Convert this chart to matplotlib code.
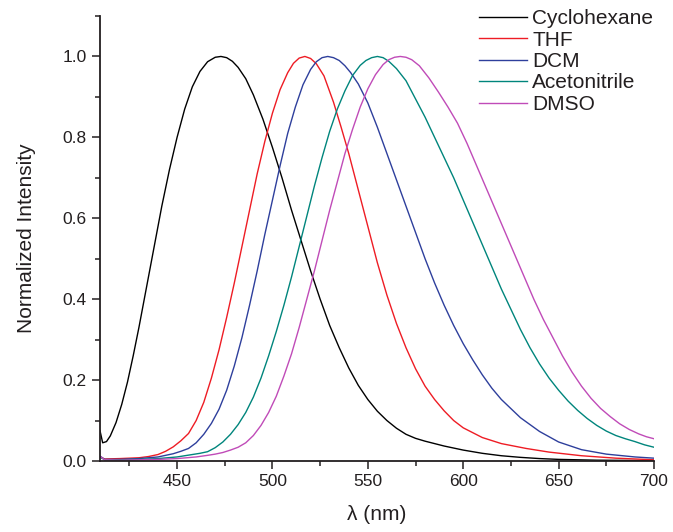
import matplotlib
matplotlib.use("Agg")
import matplotlib.pyplot as plt
from matplotlib.ticker import MultipleLocator

plt.rcParams['font.family'] = ['Liberation Sans', 'DejaVu Sans']

# ---- data ----
cyc_wl = [409.6, 411, 413, 415, 418, 421, 424, 427, 430, 434, 438, 442, 446, 450, 454, 458,
          462, 466, 470, 473, 476, 479, 482, 486, 490, 495, 500, 505, 510, 515, 520, 525, 530,
          535, 540, 545, 550, 555, 560, 565, 570, 575, 580, 585, 590, 600, 610, 620, 630,
          640, 650, 670, 700]
cyc_int = [0.075, 0.045, 0.048, 0.062, 0.095, 0.14, 0.195, 0.26, 0.33, 0.43, 0.53, 0.63, 0.72,
           0.80, 0.87, 0.925, 0.963, 0.987, 0.998, 1.0, 0.997, 0.988, 0.973, 0.945, 0.905,
           0.845, 0.775, 0.70, 0.62, 0.545, 0.47, 0.40, 0.335, 0.28, 0.23, 0.187, 0.152, 0.123,
           0.10, 0.081, 0.066, 0.056, 0.049, 0.043, 0.037, 0.027, 0.019, 0.013, 0.009, 0.006,
           0.004, 0.002, 0.001]

thf_wl = [409.6, 412, 420, 430, 435, 440, 444, 448, 452, 456, 460, 464, 468, 472, 476, 480,
          484, 488, 492, 496, 500, 504, 508, 511, 514, 517, 520, 523, 527, 532, 536, 540, 545,
          550, 555, 560, 565, 570, 575, 580, 585, 590, 595, 600, 610, 620, 633, 645, 662, 680,
          700]
thf_int = [0.010, 0.005, 0.006, 0.008, 0.011, 0.016, 0.024, 0.035, 0.05, 0.068, 0.10, 0.145,
           0.205, 0.275, 0.355, 0.44, 0.53, 0.62, 0.71, 0.79, 0.86, 0.918, 0.96, 0.983, 0.996,
           1.0, 0.995, 0.982, 0.952, 0.887, 0.825, 0.76, 0.67, 0.58, 0.49, 0.41, 0.34, 0.28,
           0.228, 0.185, 0.152, 0.124, 0.10, 0.082, 0.058, 0.043, 0.031, 0.022, 0.013, 0.007,
           0.003]

dcm_wl = [409.6, 412, 420, 430, 440, 448, 452, 456, 460, 464, 468, 472, 476, 480, 484, 488,
          492, 496, 500, 504, 508, 512, 516, 520, 523, 526, 529, 532, 535, 538, 541, 545, 550,
          555, 560, 565, 570, 575, 580, 585, 590, 595, 600, 605, 610, 615, 620, 630, 640, 650,
          662, 675, 690, 700]
dcm_int = [0.012, 0.004, 0.004, 0.006, 0.010, 0.018, 0.024, 0.031, 0.045, 0.066, 0.093, 0.128,
           0.175, 0.235, 0.305, 0.385, 0.47, 0.56, 0.645, 0.73, 0.81, 0.875, 0.93, 0.968, 0.987,
           0.997, 1.0, 0.997, 0.99, 0.977, 0.96, 0.932, 0.885, 0.825, 0.76, 0.695, 0.63, 0.565,
           0.50, 0.44, 0.385, 0.335, 0.29, 0.25, 0.213, 0.18, 0.152, 0.107, 0.073, 0.047,
           0.028, 0.017, 0.010, 0.007]

acn_wl = [409.6, 412, 420, 430, 440, 450, 458, 462, 466, 470, 474, 478, 482, 486, 490, 494, 498,
          502, 506, 510, 514, 518, 522, 526, 530, 534, 538, 542, 546, 549, 552, 555, 558, 561,
          565, 570, 575, 580, 585, 590, 595, 600, 605, 610, 615, 620, 625, 630, 635, 640, 645,
          650, 655, 660, 665, 670, 675, 680, 685, 690, 695, 700]
acn_int = [0.010, 0.003, 0.003, 0.004, 0.006, 0.010, 0.016, 0.019, 0.023, 0.033, 0.047, 0.066,
           0.09, 0.12, 0.158, 0.205, 0.26, 0.32, 0.385, 0.455, 0.53, 0.605, 0.68, 0.75, 0.815,
           0.87, 0.915, 0.953, 0.978, 0.99, 0.997, 1.0, 0.997, 0.988, 0.97, 0.94, 0.895, 0.85,
           0.80, 0.75, 0.70, 0.645, 0.59, 0.535, 0.48, 0.425, 0.375, 0.325, 0.28, 0.24, 0.205,
           0.175, 0.148, 0.125, 0.105, 0.088, 0.074, 0.063, 0.055, 0.048, 0.040, 0.034]

dmso_wl = [409.6, 412, 420, 430, 440, 450, 460, 466, 470, 474, 478, 482, 486, 490, 494, 498,
           502, 506, 510, 514, 518, 522, 526, 530, 534, 538, 542, 546, 550, 554, 558, 561, 564,
           567, 570, 573, 577, 582, 587, 592, 597, 602, 607, 612, 617, 622, 627, 632, 637, 642,
           647, 652, 657, 662, 667, 672, 677, 682, 687, 692, 696, 700]
dmso_int = [0.012, 0.003, 0.002, 0.003, 0.004, 0.006, 0.010, 0.014, 0.017, 0.021, 0.027, 0.034,
            0.045, 0.063, 0.088, 0.12, 0.16, 0.21, 0.265, 0.33, 0.40, 0.47, 0.545, 0.62, 0.69,
            0.76, 0.82, 0.875, 0.92, 0.955, 0.98, 0.992, 0.998, 1.0, 0.998, 0.992, 0.977, 0.947,
            0.912, 0.875, 0.835, 0.785, 0.73, 0.675, 0.62, 0.565, 0.51, 0.455, 0.40, 0.35, 0.305,
            0.26, 0.22, 0.185, 0.155, 0.13, 0.11, 0.092, 0.078, 0.067, 0.06, 0.055]

series_names = ["Cyclohexane", "THF", "DCM", "Acetonitrile", "DMSO"]
series_wl = [cyc_wl, thf_wl, dcm_wl, acn_wl, dmso_wl]
series_int = [cyc_int, thf_int, dcm_int, acn_int, dmso_int]
colors = ["#000000", "#ee1c24", "#2e3f9c", "#00857c", "#c04bb8"]

x_ticks = [450, 500, 550, 600, 650, 700]
y_ticks = [0.0, 0.2, 0.4, 0.6, 0.8, 1.0]

text_color = "#231f20"

fig = plt.figure(figsize=(6.73, 5.32), dpi=100)
ax = fig.add_axes([100/673, 71/532, 554/673, 445/532])

for name, wl, it, c in zip(series_names, series_wl, series_int, colors):
    ax.plot(wl, it, color=c, lw=1.0, label=name)

ax.set_xlim(409.6, 700)
ax.set_ylim(0, 1.1)
ax.set_xticks(x_ticks)
ax.set_xticklabels([str(t) for t in x_ticks])
ax.set_yticks(y_ticks)
ax.set_yticklabels([f"{t:.1f}" for t in y_ticks])
ax.xaxis.set_minor_locator(MultipleLocator(25))
ax.yaxis.set_minor_locator(MultipleLocator(0.1))

for s in ["top", "right"]:
    ax.spines[s].set_visible(False)
for s in ["left", "bottom"]:
    ax.spines[s].set_color(text_color)
    ax.spines[s].set_linewidth(1.3)

ax.tick_params(which="major", direction="out", length=6, width=1.1, colors=text_color,
               labelsize=12.5, pad=3.5)
ax.tick_params(which="minor", direction="out", length=3.3, width=1.1, colors=text_color)

ax.set_xlabel("λ (nm)", fontsize=15, color=text_color)
ax.set_ylabel("Normalized Intensity", fontsize=15, color=text_color)
ax.xaxis.set_label_coords(0.5, -0.100)
ax.yaxis.set_label_coords(-0.115, 0.5)

leg = ax.legend(loc="upper left", bbox_to_anchor=(479/673, 1 - 9/532),
                bbox_transform=fig.transFigure, frameon=False, fontsize=15,
                handlelength=2.3, handletextpad=0.25, labelspacing=0.12,
                borderpad=0, borderaxespad=0)
for t in leg.get_texts():
    t.set_color(text_color)

fig.savefig("out.png", dpi=100)
